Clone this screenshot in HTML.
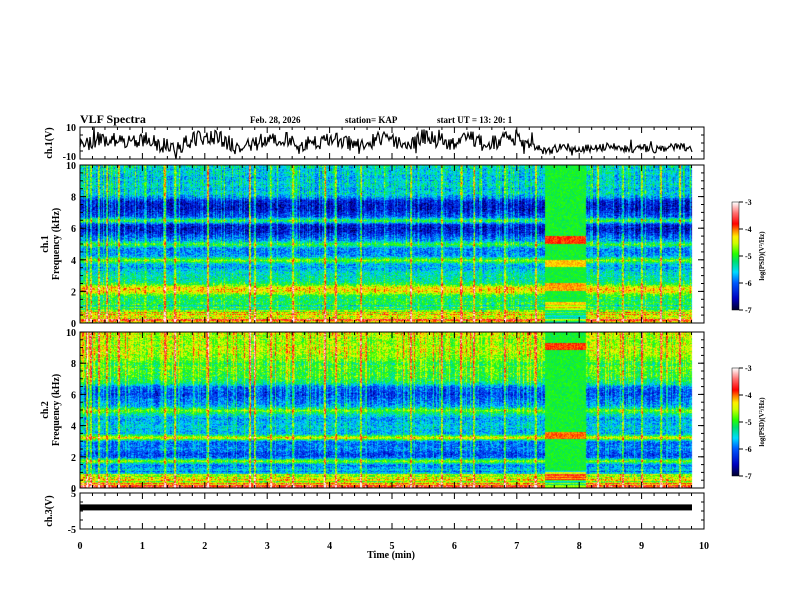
<!DOCTYPE html>
<html><head><meta charset="utf-8"><style>
body{margin:0;background:#fff;width:792px;height:612px;overflow:hidden;position:relative;font-family:"Liberation Serif",serif;}
canvas{position:absolute;}
svg{position:absolute;left:0;top:0;}
text{font-family:"Liberation Serif",serif;font-weight:bold;fill:#000;}
</style></head><body>
<canvas id="spec1" width="613" height="158" style="left:80px;top:165px"></canvas>
<canvas id="spec2" width="613" height="156" style="left:80px;top:332px"></canvas>
<canvas id="cb1" width="7" height="108" style="left:732px;top:202px"></canvas>
<canvas id="cb2" width="7" height="108" style="left:732px;top:368px"></canvas>
<svg id="ax" width="792" height="612"></svg>
<script>
// ---- data ----
const timeTicks=[0,1,2,3,4,5,6,7,8,9,10];
const freqTicks=[0,2,4,6,8,10];
const cbTicks=[-3,-4,-5,-6,-7];
// ch1 waveform baseline (V), sampled every 0.25 min from 0 to 9.75
const ch1Wave=[-2,2,4,-1,3,0,-4,1,4,3,-3,-1,2,4,-2,0,3,1,-3,3,1,-2,4,2,-1,3,-1,1,4,-3,-5,-2,-4,-3,-2,-4,-3,-4,-2,-3];
// ch1 PSD profile by frequency (log10 V^2/Hz), 0..10 kHz in 0.25 kHz steps
const prof1=[-4.0,-4.2,-4.1,-4.5,-5.0,-5.1,-5.2,-5.1,-4.4,-4.3,-5.1,-5.4,-5.4,-5.5,-5.8,-5.7,-4.7,-5.8,-5.9,-5.9,-5.0,-5.8,-6.1,-6.4,-6.5,-6.4,-5.0,-6.1,-6.3,-6.5,-6.5,-6.4,-5.8,-5.5,-5.7,-5.5,-5.6,-5.7,-5.5,-5.6,-5.4];
const prof2=[-4.0,-4.2,-4.5,-4.9,-5.3,-5.7,-6.0,-4.7,-6.1,-6.2,-5.9,-6.0,-6.0,-4.3,-5.7,-5.7,-5.6,-5.7,-5.8,-5.4,-4.8,-5.7,-5.9,-6.0,-6.2,-6.1,-6.0,-5.3,-5.1,-5.0,-5.0,-4.9,-5.1,-4.8,-4.7,-4.6,-4.6,-4.7,-4.7,-4.6,-4.5];
// event window (min) and bands during it (kHz, level)
const eventStart=7.45, eventEnd=8.1;
const event1Bands=[[5.3,-3.9],[3.8,-4.2],[2.3,-4.1],[1.1,-4.2]];
const event2Bands=[[9.1,-3.9],[3.4,-4.0],[0.8,-4.2]];
// strong impulsive columns (min)
const spikes=[0.1,0.17,0.3,0.42,0.62,1.35,1.52,2.05,2.72,2.8,3.05,3.4,3.92,4.1,4.5,5.3,5.8,6.1,6.3,6.8,7.3,7.75,8.3,8.7,9.0,9.3,9.6];
const ch3Level=1;

// ---- helpers ----
function hash(a,b){let h=(a*374761393+b*668265263)^0x5bd1e995;h=(h^(h>>>13))*1274126177;h^=h>>>16;return (h>>>0)/4294967296;}
const stops=[[0,0,0,50],[0.1,0,0,190],[0.25,0,90,255],[0.35,0,220,255],[0.45,0,225,110],[0.52,40,255,0],[0.62,210,255,0],[0.68,255,240,0],[0.74,255,130,0],[0.8,255,0,0],[0.9,255,110,110],[1,255,255,255]];
function cmap(v){let t=(v+7)/4;t=Math.max(0,Math.min(1,t));for(let i=1;i<stops.length;i++){if(t<=stops[i][0]){const a=stops[i-1],b=stops[i],f=(t-a[0])/(b[0]-a[0]);return [a[1]+f*(b[1]-a[1]),a[2]+f*(b[2]-a[2]),a[3]+f*(b[3]-a[3])];}}return [255,255,255];}
const X0=80,X1=704;
const xs=t=>X0+(X1-X0)*t/10;

function drawSpec(id,prof,bands,seed){
 const c=document.getElementById(id),ctx=c.getContext('2d'),W=c.width,H=c.height;
 const img=ctx.createImageData(W,H);
 const tEnd=9.8;const cw=Math.round((X1-X0)*tEnd/10);
 for(let x=0;x<W;x++){
  const tm=x/(X1-X0)*10;
  let col=(hash(x,seed)-0.5)*0.5;
  if(hash(x,seed+7)>0.86)col+=0.5;
  let sp=0;for(const s of spikes){if(Math.abs(xs(s)-X0-x)<1)sp=1.2;}
  const inEv=tm>=eventStart&&tm<=eventEnd;
  for(let y=0;y<H;y++){
   const i=(y*W+x)*4;
   if(x>=cw){img.data[i+3]=0;continue;}
   const f=(H-y)/H*10;
   const fi=f/0.25,k=Math.min(prof.length-2,Math.floor(fi)),fr=fi-k;
   let v=prof[k]*(1-fr)+prof[k+1]*fr;
   v+=col*(f>5?1:0.6)+(hash(x*3+7,y*11+seed)-0.5)*0.7+(hash(Math.floor(x/3),y+seed)-0.5)*0.4;
   if(sp)v+=sp*(0.5+hash(x,y+seed)*0.6);
   if(inEv){v=-5.05+(hash(x,y)-0.5)*0.35;for(const b of bands){if(Math.abs(f-b[0])<0.25)v=b[1]+(hash(y,x)-0.5)*0.3;}}
   if(f<1.2){v+= (hash(1,y+seed)-0.5)*1.2;}
   const [r,g,b]=cmap(v);img.data[i]=r;img.data[i+1]=g;img.data[i+2]=b;img.data[i+3]=255;
  }
 }
 ctx.putImageData(img,0,0);
}
drawSpec('spec1',prof1,event1Bands,11);
drawSpec('spec2',prof2,event2Bands,29);
for(const id of ['cb1','cb2']){const c=document.getElementById(id),ctx=c.getContext('2d');for(let y=0;y<108;y++){const [r,g,b]=cmap(-3-4*y/107);ctx.fillStyle=`rgb(${r|0},${g|0},${b|0})`;ctx.fillRect(0,y,7,1);}}

// ---- SVG axes ----
const svg=document.getElementById('ax');const NS='http://www.w3.org/2000/svg';
function el(tag,attrs,txt){const e=document.createElementNS(NS,tag);for(const k in attrs)e.setAttribute(k,attrs[k]);if(txt!==undefined)e.textContent=txt;svg.appendChild(e);return e;}
function line(x1,y1,x2,y2,w){return el('line',{x1,y1,x2,y2,stroke:'#000','stroke-width':w||1});}
const panels=[{top:127,bot:159,ticks:[[10,'10'],[-10,'-10']],min:-10,max:10,name:'ch1-wave-panel'},
 {top:165,bot:323,ticks:freqTicks.map(v=>[v,''+v]),min:0,max:10,name:'ch1-spectrogram-panel'},
 {top:332,bot:488,ticks:freqTicks.map(v=>[v,''+v]),min:0,max:10,name:'ch2-spectrogram-panel'},
 {top:493,bot:529,ticks:[[5,'5'],[-5,'-5']],min:-5,max:5,name:'ch3-wave-panel'}];
panels.forEach((p,pi)=>{
 const g=el('rect',{x:X0,y:p.top,width:X1-X0,height:p.bot-p.top,fill:'none',stroke:'#000','stroke-width':1});
 
 
 for(let t=0;t<=50;t++){const x=xs(t*0.2),L=t%5==0?6:3;line(x,p.bot,x,p.bot-L);line(x,p.top,x,p.top+L);}
 const ys=v=>p.bot-(v-p.min)/(p.max-p.min)*(p.bot-p.top);
 const minorStep=(p.max-p.min)/(pi==0||pi==3?4:20);
 for(let v=p.min;v<=p.max+1e-9;v+=minorStep){const y=ys(v),L=3;line(X0,y,X0+L,y);line(X1,y,X1-L,y);}
 p.ticks.forEach(([v,lab])=>{const y=ys(v);line(X0,y,X0+6,y);line(X1,y,X1-6,y);const t=el('text',{x:X0-4,y:y+(pi==0&&v<0?1:4),'text-anchor':'end','font-size':10},lab);});
});
// ch1 waveform
let d='';const ysW=v=>159-(v+10)/20*32;
const nW=(692-X0);
for(let x=0;x<=nW;x++){const tm=x/(X1-X0)*10;const fi=tm/0.25,k=Math.min(ch1Wave.length-2,Math.floor(fi)),fr=fi-k;let v=ch1Wave[k]*(1-fr)+ch1Wave[k+1]*fr;const amp=tm>7?2.5:5;v+=(hash(x,3)-0.5)*amp*2;if(hash(x,5)>0.96)v+=(hash(x,9)-0.5)*16;v=Math.max(-10,Math.min(10,v));d+=(x?'L':'M')+(X0+x)+' '+ysW(v).toFixed(1);}
const wp=el('path',{d,fill:'none',stroke:'#000','stroke-width':1.2});


const ysC=v=>529-(v+5)/10*36;
const bar=el('rect',{x:X0,y:ysC(ch3Level)-3,width:692-X0,height:6,fill:'#000'});


timeTicks.forEach(t=>{const e=el('text',{x:xs(t),y:549,'text-anchor':'middle','font-size':10},''+t);});
function T(x,y,s,fs,name,rot,anchor){const a={x,y,'font-size':fs,'text-anchor':anchor||'start'};if(rot)a.transform=`rotate(-90 ${x} ${y})`;const e=el('text',a,s);return e;}
T(391,558,'Time (min)',10,'x-axis-title',0,'middle');
T(80,123,'VLF Spectra',12,'chart-title');
T(250,123,'Feb. 28, 2026',9,'date-label');
T(345,123,'station= KAP',9,'station-label');
T(437,123,'start UT =  13: 20: 1',9,'start-time-label');
T(52,143,'ch.1(V)',10,'ch1-y-title',1,'middle');
T(48,244,'ch.1',10,'ch1-y-title-line1',1,'middle');
T(59,244,'Frequency (kHz)',10,'ch1-y-title-line2',1,'middle');
T(48,410,'ch.2',10,'ch2-y-title-line1',1,'middle');
T(59,410,'Frequency (kHz)',10,'ch2-y-title-line2',1,'middle');
T(52,511,'ch.3(V)',10,'ch3-y-title',1,'middle');
[[202,'cb1'],[368,'cb2']].forEach(([top,n])=>{
 el('rect',{x:732,y:top,width:7,height:108,fill:'none',stroke:'#000','stroke-width':0.5});
 cbTicks.forEach((v,i)=>{const y=top+(-3-v)/4*108;line(739,y,743,y);T(745,y+3,''+v,8,n+'-tick-label');});
 T(764,top+54,'log(PSD)(V²/Hz)',7,n+'-title',1,'middle');
});
</script>
</body></html>
